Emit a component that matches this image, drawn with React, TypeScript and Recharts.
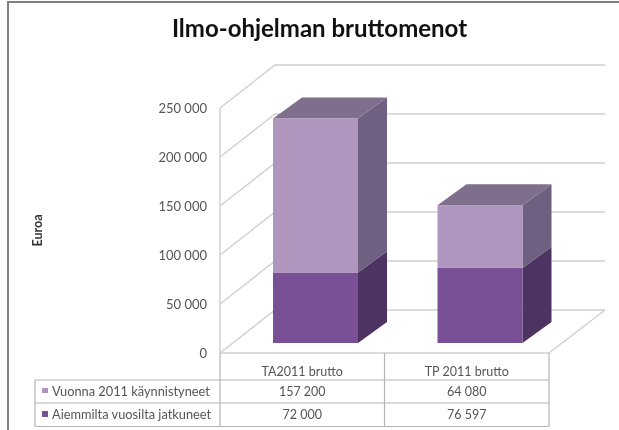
import { BarChart, Bar, XAxis, YAxis, CartesianGrid } from 'recharts'

const categories = ['TA2011 brutto', 'TP 2011 brutto']
const continuing = [72000, 76597]
const started2011 = [157200, 64080]
const yTicks = [0, 50000, 100000, 150000, 200000, 250000]
const seriesNames = ['Vuonna 2011 käynnistyneet', 'Aiemmilta vuosilta jatkuneet']

const data = categories.map((name, i) => ({ name, continuing: continuing[i], started: started2011[i] }))

const FONT = 'Lato, sans-serif'
const GRID = '#cfcfcf'
const TABLE = '#b4b4b4'
const TEXT = '#555'
const C = {
  light: '#ae96be',
  lightSide: '#6f5f80',
  top: '#7f6e8c',
  dark: '#795095',
  darkSide: '#4c3361',
}

// 3D offsets of the wall and of the bar boxes
const WALL = { dx: 55, dy: -43 }
const DEPTH = { dx: 29, dy: -21 }
const INSET = { dx: 13, dy: -10 }

const fmt = (v: number) => String(v).replace(/\B(?=(\d{3})+$)/g, ' ')

function Box({ x, y, width, height, front, side, top }: any) {
  const l = x + INSET.dx
  const r = l + width
  const t = y + INSET.dy
  const b = t + height
  return (
    <g>
      <polygon
        points={`${r},${t} ${r + DEPTH.dx},${t + DEPTH.dy} ${r + DEPTH.dx},${b + DEPTH.dy} ${r},${b}`}
        fill={side}
      />
      {top && (
        <polygon
          points={`${l},${t} ${l + DEPTH.dx},${t + DEPTH.dy} ${r + DEPTH.dx},${t + DEPTH.dy} ${r},${t}`}
          fill={top}
        />
      )}
      <rect x={l} y={t} width={width} height={height} fill={front} />
    </g>
  )
}

function WallLine({ x1, x2, y1, index }: any) {
  const bx = x1 + WALL.dx
  const by = y1 + WALL.dy
  const ex = x2 + WALL.dx + 1
  return (
    <g key={index} stroke={GRID} strokeWidth={1.4} fill="none">
      <polyline points={`${x1},${y1} ${bx},${by} ${ex},${by}`} />
      {y1 > 340 && <polyline points={`${x1},${y1} ${x2},${y1} ${ex},${by}`} />}
    </g>
  )
}

function TableTick({ x, payload, index }: any) {
  return (
    <g fontFamily={FONT} fontSize={12.5} fill={TEXT} textAnchor="middle">
      <text x={x} y={376}>{payload.value}</text>
      <text x={x} y={396}>{fmt(started2011[index])}</text>
      <text x={x} y={419}>{fmt(continuing[index])}</text>
    </g>
  )
}

function DataTable() {
  return (
    <g>
      <g stroke={TABLE} strokeWidth={1.2}>
        <line x1={35} x2={549} y1={380} y2={380} />
        <line x1={35} x2={549} y1={403} y2={403} />
        <line x1={35} x2={549} y1={426.5} y2={426.5} />
        <line x1={35} x2={35} y1={380} y2={426.5} />
        <line x1={220} x2={220} y1={353} y2={426.5} />
        <line x1={384.5} x2={384.5} y1={353} y2={426.5} />
        <line x1={549} x2={549} y1={353} y2={426.5} />
      </g>
      <rect x={42} y={388} width={6} height={5} fill={C.light} />
      <rect x={42} y={411} width={6} height={6} fill={C.dark} />
      <g fontFamily={FONT} fontSize={12.8} fill={TEXT}>
        <text x={52} y={396}>{seriesNames[0]}</text>
        <text x={52} y={419}>{seriesNames[1]}</text>
      </g>
    </g>
  )
}

export default function App() {
  return (
    <div style={{ position: 'absolute', left: 0, top: 0, width: 619, height: 430, background: '#fff', filter: 'blur(0.5px)' }}>
      <BarChart
        width={619}
        height={430}
        data={data}
        margin={{ top: 108, right: 70, bottom: 0, left: 0 }}
        barSize={85}
      >
        <CartesianGrid vertical={false} horizontal={WallLine as any} />
        <YAxis
          width={220}
          domain={[0, 250000]}
          ticks={yTicks}
          tickFormatter={fmt}
          tick={{ fill: TEXT, fontSize: 13, fontFamily: FONT }}
          tickLine={false}
          tickSize={0}
          tickMargin={13}
          axisLine={{ stroke: GRID, strokeWidth: 1.4 }}
          label={{
            value: 'Euroa',
            angle: -90,
            position: 'insideLeft',
            offset: 38,
            style: { fill: '#333', fontSize: 12.5, fontWeight: 700, fontFamily: FONT, textAnchor: 'middle' },
          }}
        />
        <XAxis dataKey="name" height={77} tick={<TableTick />} tickLine={false} axisLine={false} interval={0} />
        <Bar
          dataKey="continuing"
          stackId="a"
          isAnimationActive={false}
          shape={(p: any) => <Box {...p} front={C.dark} side={C.darkSide} />}
        />
        <Bar
          dataKey="started"
          stackId="a"
          isAnimationActive={false}
          shape={(p: any) => <Box {...p} front={C.light} side={C.lightSide} top={C.top} />}
        />
        <text x={319.5} y={37} textAnchor="middle" fontFamily={FONT} fontSize={24} fontWeight={700} fill="#111">
          Ilmo-ohjelman bruttomenot
        </text>
        <DataTable />
      </BarChart>
      <div style={{ position: 'absolute', left: 7, top: 1, width: 612, height: 2, background: '#808080' }} />
      <div style={{ position: 'absolute', left: 7, top: 1, width: 2, height: 429, background: '#808080' }} />
    </div>
  )
}
